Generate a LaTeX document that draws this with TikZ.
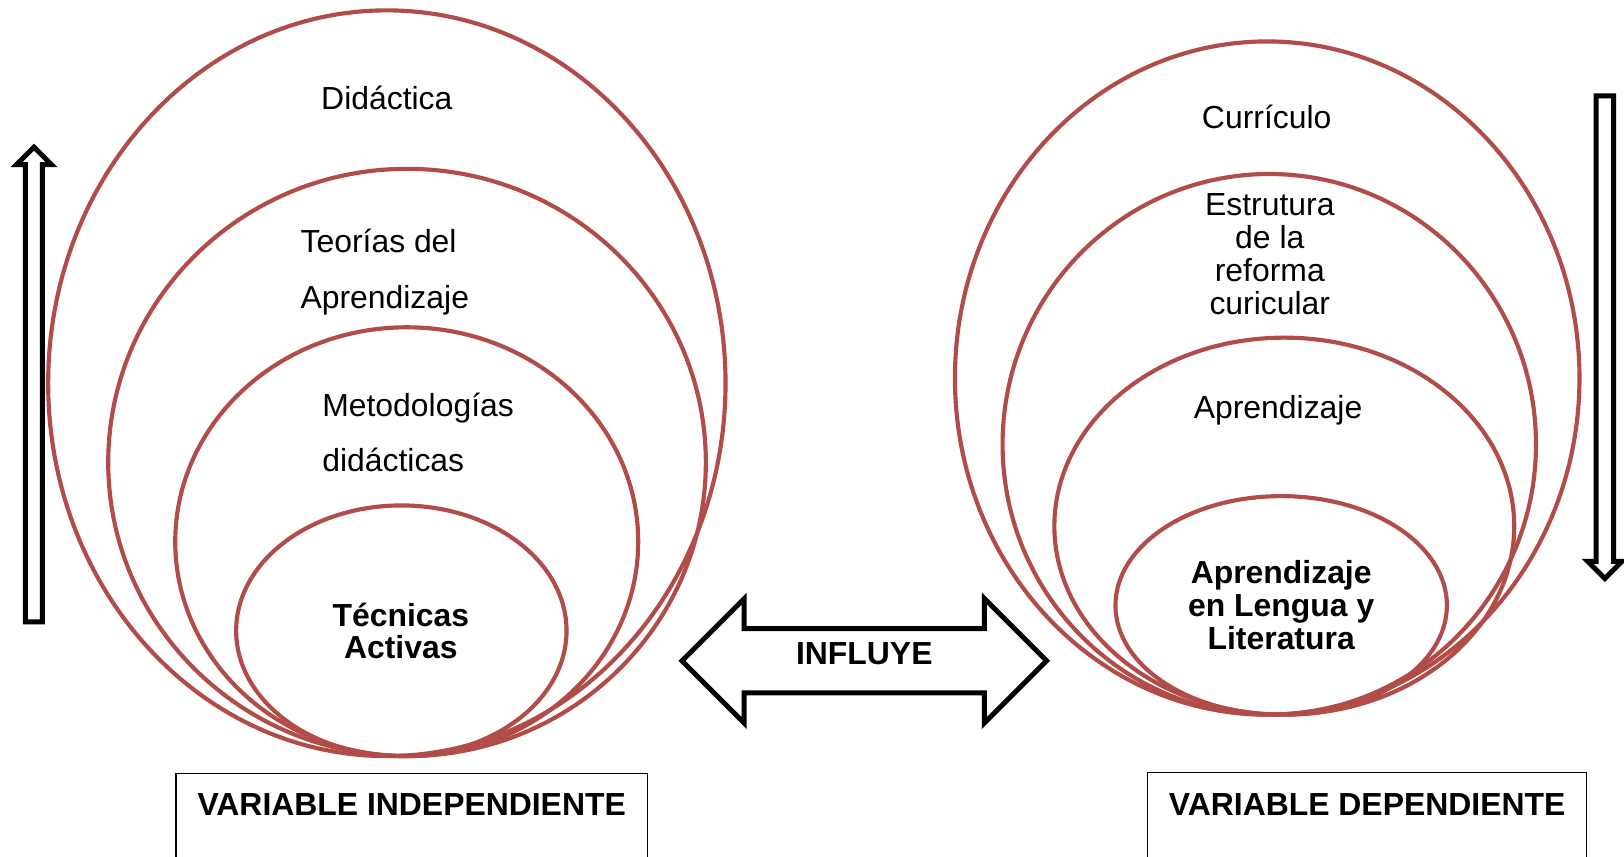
\documentclass[tikz,border=0pt]{standalone}
\usepackage{fontspec}
\setmainfont{Liberation Sans}
\usetikzlibrary{shapes.geometric}
\definecolor{ellred}{RGB}{178,76,72}
\begin{document}
\begin{tikzpicture}[x=1pt,y=-1pt,
  ring/.style={ellipse, draw=ellred, line width=4pt, inner sep=0pt, outer sep=0pt},
  lbl/.style={font=\fontsize{30.8}{32}\selectfont, inner sep=0pt, anchor=base},
  blbl/.style={lbl, font=\fontsize{30.8}{32}\selectfont\bfseries},
  blockarrow/.style={draw=black, line width=4.8pt, fill=white, miter limit=10},
  frame/.style={draw=black, line width=1.4pt}
]
\useasboundingbox (0,0) rectangle (1568,827.4);
\fill[white] (0,0) rectangle (1568,827.4);

% left nested ellipses
\node[ring, minimum width=654pt, minimum height=720pt] (didactica) at (373.5,370) {};
\node[ring, minimum width=577pt, minimum height=567pt] (teorias) at (393,446.5) {};
\node[ring, minimum width=447pt, minimum height=414pt] (metodo) at (392.7,523) {};
\node[ring, minimum width=319pt, minimum height=242pt] (tecnicas) at (387.5,609) {};

% right nested ellipses
\node[ring, minimum width=603pt, minimum height=650pt] (curriculo) at (1223.5,365) {};
\node[ring, minimum width=515pt, minimum height=522pt] (estructura) at (1225.5,429) {};
\node[ring, minimum width=444pt, minimum height=364pt] (aprend) at (1240,508) {};
\node[ring, minimum width=320pt, minimum height=211pt] (lengua) at (1237,584.5) {};

% left texts
\node[lbl] (tdid) at (373.5,106) {Didáctica};
\node[lbl, anchor=base west] (tteo1) at (290,244) {Teorías del};
\node[lbl, anchor=base west] (tteo2) at (290,298) {Aprendizaje};
\node[lbl, anchor=base west] (tmet1) at (311,402) {Metodologías};
\node[lbl, anchor=base west] (tmet2) at (311,455) {didácticas};
\node[blbl] (ttec1) at (387,605) {Técnicas};
\node[blbl] (ttec2) at (387,636) {Activas};

% right texts
\node[lbl] (tcur) at (1223,124) {Currículo};
\node[lbl] (test1) at (1226,208) {Estrutura};
\node[lbl] (test2) at (1226,240) {de la};
\node[lbl] (test3) at (1226,272) {reforma};
\node[lbl] (test4) at (1226,304) {curicular};
\node[lbl] (tapr) at (1234,404) {Aprendizaje};
\node[blbl] (tlen1) at (1237,563) {Aprendizaje};
\node[blbl] (tlen2) at (1237,595) {en Lengua y};
\node[blbl] (tlen3) at (1237,627) {Literatura};

% up arrow (left)
\draw[blockarrow] (24.6,600.5) -- (24.6,159) -- (15.8,159) -- (32.8,142)
  -- (49.8,159) -- (41,159) -- (41,600.5) -- cycle;
% down arrow (right)
\draw[blockarrow] (1541,92.5) -- (1541,542) -- (1533,542) -- (1549.5,558.5)
  -- (1566,542) -- (1558,542) -- (1558,92.5) -- cycle;

% double arrow INFLUYE
\draw[blockarrow] (658.5,638) -- (718.5,578) -- (718.5,607) -- (950.5,607)
  -- (950.5,578) -- (1010.5,638) -- (950.5,698) -- (950.5,669)
  -- (718.5,669) -- (718.5,698) -- cycle;
\node[blbl] (influye) at (834.5,642) {INFLUYE};

% bottom boxes
\draw[frame] (170,827.4) -- (170,747) -- (625,747) -- (625,827.4);
\node[blbl] (vind) at (397.5,787) {VARIABLE INDEPENDIENTE};
\draw[frame] (1108,827.4) -- (1108,746) -- (1532,746) -- (1532,827.4);
\node[blbl] (vdep) at (1320,787) {VARIABLE DEPENDIENTE};
\end{tikzpicture}
\end{document}
